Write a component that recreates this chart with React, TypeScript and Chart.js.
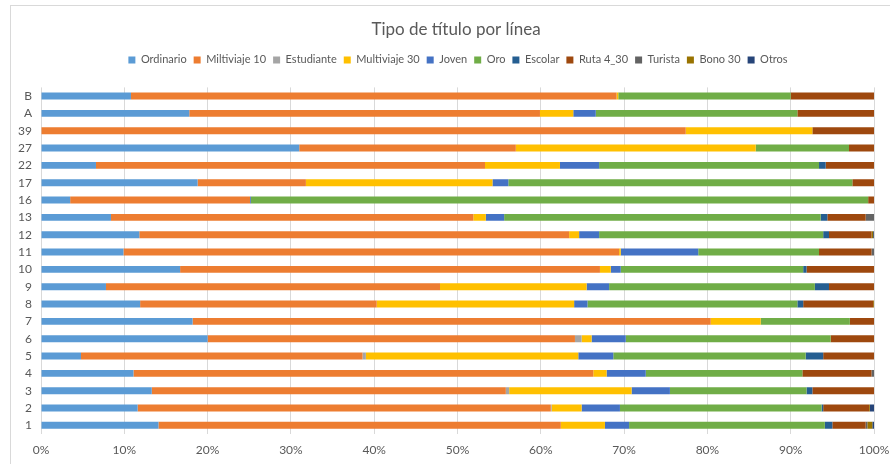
import React, { useEffect, useRef } from "react";
import { Chart, registerables } from "chart.js";

Chart.register(...registerables);

const TITLE = "Tipo de título por línea";
const categories = ["B", "A", "39", "27", "22", "17", "16", "13", "12", "11", "10", "9", "8", "7", "6", "5", "4", "3", "2", "1"];
const xTicks = [0, 10, 20, 30, 40, 50, 60, 70, 80, 90, 100];

const ordinario = [10.8, 17.8, 0, 31.0, 6.6, 18.8, 3.5, 8.4, 11.8, 9.9, 16.7, 7.8, 11.9, 18.2, 20.0, 4.8, 11.1, 13.3, 11.6, 14.1];
const miltiviaje10 = [58.3, 42.1, 77.4, 26.0, 46.7, 13.0, 21.6, 43.5, 51.6, 59.5, 50.4, 40.1, 28.4, 62.2, 44.1, 33.8, 55.2, 42.5, 49.6, 48.3];
const estudiante = [0, 0, 0, 0, 0, 0, 0, 0, 0, 0, 0, 0, 0, 0, 0.8, 0.4, 0, 0.4, 0.1, 0];
const multiviaje30 = [0.2, 4.0, 15.2, 28.8, 9.0, 22.4, 0, 1.5, 1.2, 0.2, 1.3, 17.6, 23.7, 6.0, 1.2, 25.5, 1.6, 14.7, 3.6, 5.3];
const joven = [0, 2.7, 0, 0, 4.7, 1.9, 0.1, 2.2, 2.4, 9.3, 1.2, 2.7, 1.6, 0, 4.1, 4.2, 4.7, 4.6, 4.6, 2.9];
const oro = [20.7, 24.2, 0, 11.2, 26.4, 41.3, 74.1, 38.0, 26.9, 14.5, 21.9, 24.7, 25.2, 10.7, 24.6, 23.1, 18.8, 16.4, 24.2, 23.5];
const escolar = [0, 0, 0, 0, 0.8, 0, 0, 0.8, 0.7, 0, 0.4, 1.7, 0.7, 0, 0, 2.1, 0, 0.7, 0.2, 0.9];
const ruta430 = [10.0, 9.2, 7.4, 3.0, 5.8, 2.6, 0.7, 4.6, 5.1, 6.3, 8.1, 5.4, 8.4, 2.9, 5.2, 6.1, 8.3, 7.4, 5.5, 4.0];
const turista = [0, 0, 0, 0, 0, 0, 0, 1.0, 0, 0.3, 0, 0, 0, 0, 0, 0, 0.3, 0, 0, 0.2];
const bono30 = [0, 0, 0, 0, 0, 0, 0, 0, 0.2, 0, 0, 0, 0.1, 0, 0, 0, 0, 0, 0.1, 0.6];
const otros = [0, 0, 0, 0, 0, 0, 0, 0, 0.1, 0, 0, 0, 0, 0, 0, 0, 0, 0, 0.5, 0.2];

const seriesNames = ["Ordinario", "Miltiviaje 10", "Estudiante", "Multiviaje 30", "Joven", "Oro", "Escolar", "Ruta 4_30", "Turista", "Bono 30", "Otros"];
const seriesValues = [ordinario, miltiviaje10, estudiante, multiviaje30, joven, oro, escolar, ruta430, turista, bono30, otros];
const seriesColors = ["#5B9BD5", "#ED7D31", "#A5A5A5", "#FFC000", "#4472C4", "#70AD47", "#255E91", "#9E480E", "#636363", "#997300", "#264478"];

const FONT = "Lato, 'Open Sans', sans-serif";
const TEXT = "#595959";

export default function App() {
  const ref = useRef<HTMLCanvasElement | null>(null);
  useEffect(() => {
    if (!ref.current) return;
    const headerPlacement = {
      id: "headerPlacement",
      beforeInit(chart: any) {
        const orig = chart.legend.fit;
        chart.legend.fit = function () {
          orig.bind(chart.legend)();
          this.height += 12;
        };
      },
      afterLayout(chart: any) {
        const t = chart.titleBlock;
        if (t) {
          t.left = 38;
          t.right = 874;
          t.width = t.right - t.left;
        }
        const l = chart.legend;
        if (l) {
          l.left = 42;
          l.right = 874;
          l.width = l.right - l.left;
        }
      },
    };
    const chart = new Chart(ref.current, {
      type: "bar",
      data: {
        labels: categories,
        datasets: seriesNames.map((name, i) => ({
          label: name,
          data: seriesValues[i],
          backgroundColor: seriesColors[i],
          borderWidth: 0,
          barPercentage: 0.4,
          categoryPercentage: 1,
        })),
      },
      options: {
        indexAxis: "y",
        animation: false,
        responsive: false,
        maintainAspectRatio: false,
        layout: { padding: { left: 0, right: 16, top: 0, bottom: 0 } },
        plugins: {
          title: {
            display: true,
            text: TITLE,
            color: TEXT,
            font: { family: FONT, size: 17, weight: "normal" },
            padding: { top: 19, bottom: 8 },
          },
          legend: {
            display: true,
            position: "top",
            labels: {
              color: TEXT,
              font: { family: FONT, size: 11 },
              boxWidth: 7,
              boxHeight: 7,
              padding: 7,
            },
          },
          tooltip: { enabled: false },
        },
        scales: {
          x: {
            stacked: true,
            min: 0,
            max: 100,
            afterFit(scale: any) {
              scale.height = 30;
              scale.paddingRight = 0;
              scale.paddingLeft = 0;
            },
            afterBuildTicks(scale: any) {
              scale.ticks = xTicks.map((v) => ({ value: v }));
            },
            ticks: {
              color: TEXT,
              font: { family: FONT, size: 12 },
              padding: 9,
              maxRotation: 0,
              autoSkip: false,
              callback: (v: any) => v + "%",
            },
            grid: { color: "#D9D9D9", drawTicks: false },
            border: { display: false },
          },
          y: {
            stacked: true,
            afterFit(scale: any) {
              scale.width = 41;
            },
            ticks: {
              color: TEXT,
              font: { family: FONT, size: 12 },
              padding: 9,
              autoSkip: false,
            },
            grid: { display: false, drawTicks: false },
            border: { display: false },
          },
        },
      },
      plugins: [headerPlacement],
    } as any);
    return () => chart.destroy();
  }, []);

  return (
    <div style={{ position: "fixed", left: 0, top: 0, width: 890, height: 464, overflow: "hidden", background: "#fff" }}>
      <div style={{ position: "absolute", left: 10, top: 5, width: 900, height: 500, border: "1px solid #D9D9D9", boxSizing: "border-box" }} />
      <canvas ref={ref} width={890} height={464} style={{ position: "absolute", left: 0, top: 0, width: 890, height: 464 }} />
    </div>
  );
}
